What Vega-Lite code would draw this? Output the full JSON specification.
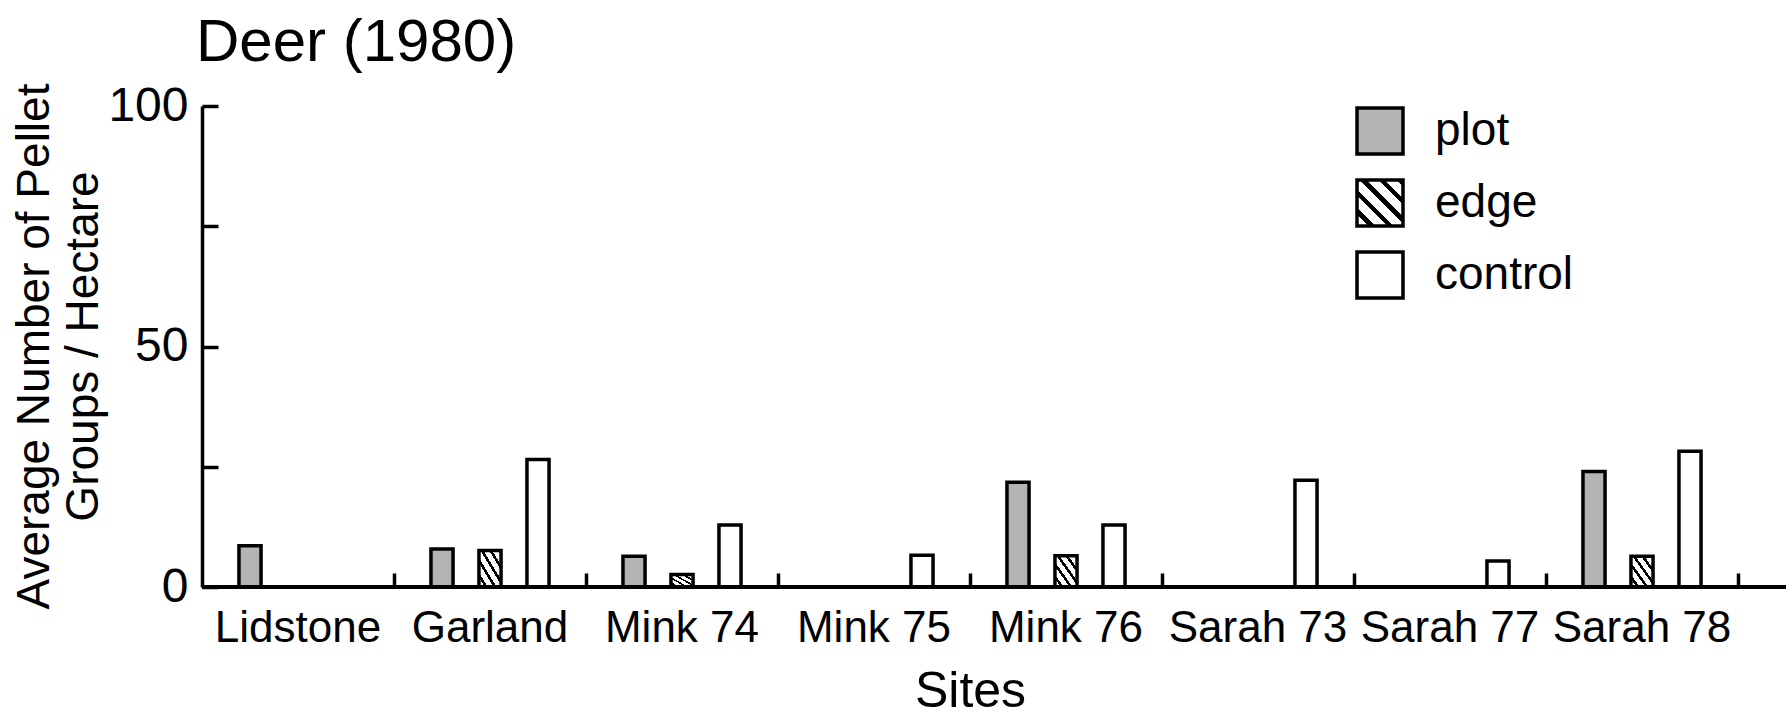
{
  "$schema": "https://vega.github.io/schema/vega-lite/v6.json",
  "autosize": {"type": "none"},
  "padding": {"left": 202, "top": 106, "right": 0, "bottom": 131},
  "width": 1584,
  "height": 481,
  "background": "white",
  "config": {
    "font": "Liberation Sans",
    "view": {"stroke": null},
    "axis": {"labelColor": "black", "titleColor": "black", "domainColor": "black", "tickColor": "black"}
  },
  "title": {
    "text": "Deer (1980)",
    "anchor": "start",
    "frame": "group",
    "fontSize": 60,
    "fontWeight": "normal",
    "color": "black",
    "baseline": "alphabetic",
    "offset": 40,
    "dx": -6,
    "dy": 79
  },
  "data": {
    "values": [
      {"site": "Lidstone", "treatment": "plot", "value": 8.6},
      {"site": "Garland", "treatment": "plot", "value": 7.9},
      {"site": "Garland", "treatment": "edge", "value": 7.6},
      {"site": "Garland", "treatment": "control", "value": 26.5},
      {"site": "Mink 74", "treatment": "plot", "value": 6.4},
      {"site": "Mink 74", "treatment": "edge", "value": 2.6},
      {"site": "Mink 74", "treatment": "control", "value": 12.9},
      {"site": "Mink 75", "treatment": "control", "value": 6.6},
      {"site": "Mink 76", "treatment": "plot", "value": 21.8},
      {"site": "Mink 76", "treatment": "edge", "value": 6.5},
      {"site": "Mink 76", "treatment": "control", "value": 12.9},
      {"site": "Sarah 73", "treatment": "control", "value": 22.2},
      {"site": "Sarah 77", "treatment": "control", "value": 5.4},
      {"site": "Sarah 78", "treatment": "plot", "value": 24.0},
      {"site": "Sarah 78", "treatment": "edge", "value": 6.4},
      {"site": "Sarah 78", "treatment": "control", "value": 28.2}
    ]
  },
  "layer": [
    {
      "mark": {"type": "bar", "stroke": "black", "strokeWidth": 3.5, "strokeJoin": "miter"},
      "encoding": {
        "x": {
          "field": "site",
          "type": "nominal",
          "sort": ["Lidstone", "Garland", "Mink 74", "Mink 75", "Mink 76", "Sarah 73", "Sarah 77", "Sarah 78"],
          "scale": {"range": [0, 1536], "paddingInner": 0, "paddingOuter": 0},
          "axis": {
            "title": "Sites",
            "domain": false,
            "bandPosition": 1,
            "ticks": true,
            "tickSize": -14,
            "tickWidth": 3.5,
            "labelAngle": 0,
            "labelFontSize": 44,
            "labelPadding": 33,
            "labelBaseline": "top",
            "titleFontSize": 50,
            "titleFontWeight": "normal",
            "titlePadding": 16
          }
        },
        "xOffset": {
          "field": "treatment",
          "type": "nominal",
          "sort": ["plot", "edge", "control"],
          "scale": {"domain": ["plot", "edge", "control"], "paddingInner": 0.54, "paddingOuter": 0.77}
        },
        "y": {
          "field": "value",
          "type": "quantitative",
          "scale": {"domain": [0, 100], "nice": false},
          "axis": {
            "title": ["Average Number of Pellet", "Groups / Hectare"],
            "values": [0, 25, 50, 75, 100],
            "labelExpr": "datum.value % 50 === 0 ? datum.label : ''",
            "grid": false,
            "domainWidth": 3.5,
            "tickSize": -16,
            "tickWidth": 3.5,
            "labelFontSize": 48,
            "labelPadding": 30,
            "labelFlush": false,
            "labelOverlap": false,
            "titleFontSize": 46,
            "titleFontWeight": "normal",
            "titleLineHeight": 49,
            "titleAngle": -90,
            "titleAlign": "center",
            "titleBaseline": "middle",
            "titleX": -168,
            "titleY": 240
          }
        },
        "fill": {
          "field": "treatment",
          "type": "nominal",
          "sort": ["plot", "edge", "control"],
          "scale": {
            "domain": ["plot", "edge", "control"],
            "range": [
              "#b4b4b4",
              {"expr": "{gradient: 'linear', x1: 0, y1: 1, x2: 1, y2: 0, stops: [{offset: 0, color: 'white'}, {offset: 0.13, color: 'white'}, {offset: 0.13, color: 'black'}, {offset: 0.2, color: 'black'}, {offset: 0.2, color: 'white'}, {offset: 0.33, color: 'white'}, {offset: 0.33, color: 'black'}, {offset: 0.4, color: 'black'}, {offset: 0.4, color: 'white'}, {offset: 0.53, color: 'white'}, {offset: 0.53, color: 'black'}, {offset: 0.6, color: 'black'}, {offset: 0.6, color: 'white'}, {offset: 0.73, color: 'white'}, {offset: 0.73, color: 'black'}, {offset: 0.8, color: 'black'}, {offset: 0.8, color: 'white'}, {offset: 0.93, color: 'white'}, {offset: 0.93, color: 'black'}, {offset: 1, color: 'black'}]}"},
              "white"
            ]
          },
          "legend": {
            "orient": "none",
            "legendX": 1153,
            "legendY": 0,
            "title": null,
            "padding": 0,
            "symbolType": "square",
            "symbolSize": 2116,
            "symbolStrokeColor": "black",
            "symbolStrokeWidth": 3.5,
            "symbolOpacity": 1,
            "labelFontSize": 46,
            "labelColor": "black",
            "labelOffset": 30,
            "rowPadding": 12
          }
        }
      }
    },
    {
      "mark": {"type": "rule", "color": "black", "strokeWidth": 4},
      "encoding": {"y": {"datum": 0}}
    }
  ]
}
